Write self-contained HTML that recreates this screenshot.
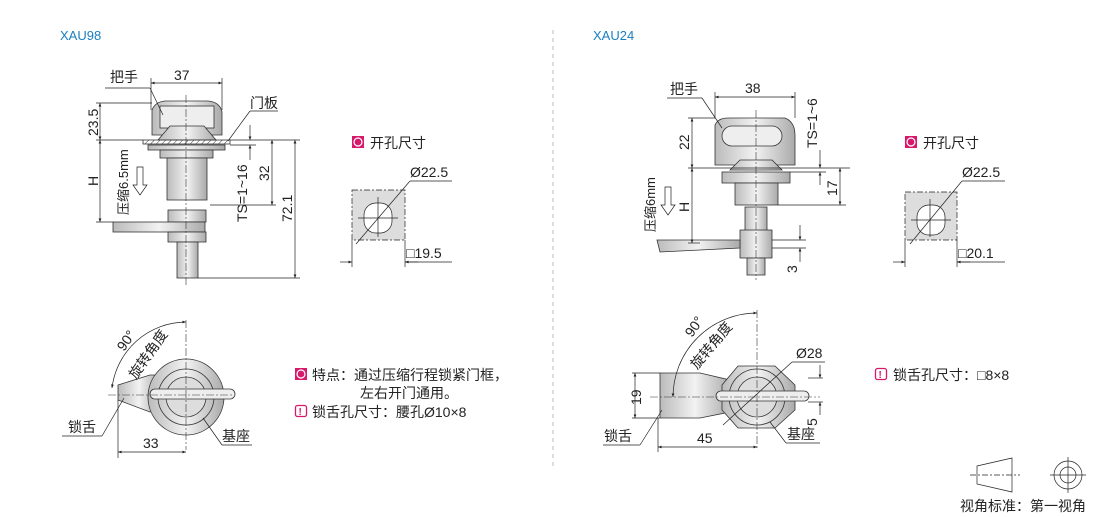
<!DOCTYPE html>
<html><head><meta charset="utf-8"><style>
body{margin:0;background:#fff;}
svg{display:block;font-family:"Liberation Sans","Noto Sans CJK SC",sans-serif;}
</style></head><body>
<svg width="1110" height="517" viewBox="0 0 1110 517" xmlns="http://www.w3.org/2000/svg">
<defs>
<marker id="a" viewBox="0 0 10 10" refX="10" refY="5" markerWidth="7" markerHeight="5" orient="auto-start-reverse"><path d="M0,1 L10,5 L0,9z" fill="#222"/></marker>
<pattern id="h" width="4" height="4" patternUnits="userSpaceOnUse" patternTransform="rotate(45)"><line x1="0" y1="0" x2="0" y2="4" stroke="#444" stroke-width="1"/></pattern>
<linearGradient id="g" x1="0" x2="1"><stop offset="0" stop-color="#bbb"/><stop offset=".5" stop-color="#f2f2f2"/><stop offset="1" stop-color="#aaa"/></linearGradient>
</defs>
<g font-size="13" fill="#1a7fc0"><text x="60" y="40">XAU98</text><text x="593" y="40">XAU24</text></g>
<line x1="553" y1="30" x2="553" y2="470" stroke="#bbb" stroke-dasharray="4,4"/>

<g stroke="#333" stroke-width="0.8" fill="url(#g)">
<path d="M152,135 L152,110 Q155,102 165,101 L208,101 Q220,102 222,112 L222,135 Z"/>
<rect x="160" y="106" width="54" height="22" fill="#eee"/>
<path d="M158,140 L170,126 L204,126 L216,140Z"/>
<rect x="143" y="140" width="87" height="4" fill="url(#h)"/>
<rect x="148" y="145" width="77" height="5"/>
<rect x="160" y="150" width="53" height="8"/>
<rect x="167" y="158" width="40" height="42"/>
<rect x="168" y="210" width="38" height="12"/>
<rect x="113" y="222" width="92" height="10"/>
<rect x="168" y="232" width="38" height="10"/>
<rect x="177" y="242" width="21" height="36"/>
<path d="M715,165 L715,125 Q718,118 728,118 L785,118 Q795,122 795,135 L795,165 Z"/>
<rect x="722" y="126" width="60" height="20" rx="10" fill="#eee"/>
<path d="M730,170 L740,160 L772,160 L782,170Z"/>
<rect x="722" y="172" width="68" height="11"/>
<rect x="735" y="183" width="43" height="22"/>
<rect x="745" y="207" width="22" height="25"/>
<rect x="740" y="230" width="32" height="28"/>
<path d="M657,240 L740,240 L740,248 L660,252Z"/>
<rect x="747" y="258" width="18" height="17"/>
<path d="M118,385 L150,375 L160,375 L160,412 L150,412 L118,400Z"/>
<circle cx="186" cy="397" r="38"/>
<circle cx="186" cy="397" r="28" fill="none"/>
<circle cx="186" cy="397" r="20" fill="#ddd"/>
<rect x="150" y="389" width="85" height="10" rx="5" fill="#eee"/>
<path d="M660,373 L700,373 L730,380 L730,412 L700,418 L660,418Z"/>
<polygon points="738,366 775,366 795,385 795,410 775,428 738,428 722,410 722,385"/>
<circle cx="757" cy="397" r="28" fill="none"/>
<circle cx="757" cy="397" r="20" fill="#ddd"/>
<rect x="716" y="391" width="93" height="10" rx="5" fill="#eee"/>
</g>
<g stroke="#333" stroke-width="0.6" fill="none" stroke-dasharray="8,2,2,2">
<line x1="186" y1="95" x2="186" y2="285"/><line x1="756" y1="110" x2="756" y2="280"/>
<line x1="186" y1="320" x2="186" y2="450"/><line x1="108" y1="395" x2="232" y2="395"/>
<line x1="757" y1="310" x2="757" y2="450"/><line x1="650" y1="397" x2="820" y2="397"/>
</g>

<g stroke="#222" stroke-width="0.7" fill="none">
<line x1="151" y1="83" x2="222" y2="83" marker-start="url(#a)" marker-end="url(#a)"/>
<line x1="151" y1="78" x2="151" y2="110"/><line x1="222" y1="78" x2="222" y2="110"/>
<line x1="100" y1="103" x2="100" y2="140" marker-start="url(#a)" marker-end="url(#a)"/>
<line x1="100" y1="140" x2="100" y2="222" marker-start="url(#a)" marker-end="url(#a)"/>
<line x1="96" y1="103" x2="152" y2="103"/><line x1="96" y1="140" x2="143" y2="140"/><line x1="96" y1="222" x2="113" y2="222"/>
<line x1="250" y1="125" x2="250" y2="140" marker-end="url(#a)"/><line x1="250" y1="160" x2="250" y2="145" marker-end="url(#a)"/>
<line x1="230" y1="140" x2="300" y2="140"/><line x1="230" y1="145" x2="256" y2="145"/>
<line x1="272" y1="140" x2="272" y2="205" marker-start="url(#a)" marker-end="url(#a)"/>
<line x1="210" y1="205" x2="276" y2="205"/>
<line x1="295" y1="140" x2="295" y2="278" marker-start="url(#a)" marker-end="url(#a)"/>
<line x1="198" y1="278" x2="300" y2="278"/>
<line x1="105" y1="88" x2="150" y2="88"/><line x1="150" y1="88" x2="163" y2="115"/>
<line x1="250" y1="111" x2="278" y2="111"/><line x1="250" y1="111" x2="228" y2="141"/>
<path d="M137,167 L137,185 L133,185 L140,195 L147,185 L143,185 L143,167Z"/>
<line x1="715" y1="97" x2="795" y2="97" marker-start="url(#a)" marker-end="url(#a)"/>
<line x1="715" y1="92" x2="715" y2="118"/><line x1="795" y1="92" x2="795" y2="118"/>
<line x1="692" y1="118" x2="692" y2="168" marker-start="url(#a)" marker-end="url(#a)"/>
<line x1="692" y1="168" x2="692" y2="243" marker-start="url(#a)" marker-end="url(#a)"/>
<line x1="688" y1="118" x2="715" y2="118"/><line x1="688" y1="168" x2="850" y2="168"/><line x1="688" y1="243" x2="700" y2="243"/>
<line x1="820" y1="150" x2="820" y2="168" marker-end="url(#a)"/><line x1="820" y1="185" x2="820" y2="172" marker-end="url(#a)"/>
<line x1="790" y1="172" x2="826" y2="172"/>
<line x1="840" y1="168" x2="840" y2="205" marker-start="url(#a)" marker-end="url(#a)"/>
<line x1="778" y1="205" x2="846" y2="205"/>
<line x1="800" y1="225" x2="800" y2="240" marker-end="url(#a)"/><line x1="800" y1="262" x2="800" y2="248" marker-end="url(#a)"/>
<line x1="772" y1="240" x2="806" y2="240"/><line x1="772" y1="248" x2="806" y2="248"/>
<line x1="667" y1="98" x2="702" y2="98"/><line x1="702" y1="98" x2="722" y2="128"/>
<path d="M665,187 L665,205 L661,205 L668,215 L675,205 L671,205 L671,187Z"/>
<rect x="352" y="190" width="53" height="50" fill="#ddd" stroke-dasharray="6,2,2,2"/>
<rect x="364" y="203" width="28" height="30" rx="12" fill="#fff"/>
<line x1="378" y1="197" x2="378" y2="237"/><line x1="358" y1="218" x2="398" y2="218"/>
<line x1="356" y1="244" x2="410" y2="181"/><line x1="410" y1="181" x2="452" y2="181"/>
<line x1="352" y1="240" x2="352" y2="267"/><line x1="405" y1="240" x2="405" y2="267"/>
<line x1="340" y1="262" x2="352" y2="262" marker-end="url(#a)"/><line x1="418" y1="262" x2="405" y2="262" marker-end="url(#a)"/><line x1="405" y1="262" x2="452" y2="262"/>
<rect x="905" y="192" width="52" height="48" fill="#ddd" stroke-dasharray="6,2,2,2"/>
<rect x="917" y="205" width="28" height="30" rx="12" fill="#fff"/>
<line x1="930" y1="199" x2="930" y2="237"/><line x1="911" y1="220" x2="951" y2="220"/>
<line x1="910" y1="244" x2="962" y2="181"/><line x1="962" y1="181" x2="1005" y2="181"/>
<line x1="905" y1="240" x2="905" y2="267"/><line x1="957" y1="240" x2="957" y2="267"/>
<line x1="893" y1="262" x2="905" y2="262" marker-end="url(#a)"/><line x1="970" y1="262" x2="957" y2="262" marker-end="url(#a)"/><line x1="957" y1="262" x2="1005" y2="262"/>
<path d="M112,388 A75,75 0 0 1 186,322" marker-start="url(#a)" marker-end="url(#a)"/>
<line x1="118" y1="400" x2="118" y2="458"/>
<line x1="118" y1="452" x2="186" y2="452" marker-start="url(#a)" marker-end="url(#a)"/>
<line x1="62" y1="436" x2="102" y2="436"/><line x1="102" y1="436" x2="124" y2="398"/>
<line x1="222" y1="445" x2="252" y2="445"/><line x1="222" y1="445" x2="203" y2="418"/>
<path d="M673,397 A84,84 0 0 1 757,313" marker-start="url(#a)" marker-end="url(#a)"/>
<line x1="632" y1="373" x2="660" y2="373"/><line x1="632" y1="418" x2="660" y2="418"/>
<line x1="635" y1="373" x2="635" y2="418" marker-start="url(#a)" marker-end="url(#a)"/>
<line x1="658" y1="418" x2="658" y2="452"/>
<line x1="658" y1="447" x2="757" y2="447" marker-start="url(#a)" marker-end="url(#a)"/>
<line x1="723" y1="425" x2="792" y2="362"/><line x1="792" y1="362" x2="825" y2="362"/>
<line x1="808" y1="378" x2="823" y2="378"/><line x1="808" y1="402" x2="823" y2="402"/>
<line x1="820" y1="365" x2="820" y2="378" marker-end="url(#a)"/><line x1="820" y1="415" x2="820" y2="402" marker-end="url(#a)"/>
<line x1="603" y1="445" x2="640" y2="445"/><line x1="640" y1="445" x2="662" y2="410"/>
<line x1="786" y1="443" x2="820" y2="443"/><line x1="786" y1="443" x2="770" y2="422"/>
<path d="M977,466 L1012,458 L1012,492 L977,484Z"/>
<line x1="970" y1="475" x2="1020" y2="475" stroke-dasharray="6,2,2,2"/>
<circle cx="1068" cy="475" r="14"/><circle cx="1068" cy="475" r="8"/>
<line x1="1050" y1="475" x2="1086" y2="475"/><line x1="1068" y1="457" x2="1068" y2="493"/>
</g>

<g font-size="14" fill="#222">
<text x="110" y="82">把手</text><text x="174" y="80">37</text><text x="250" y="108">门板</text>
<text transform="translate(98,136) rotate(-90)">23.5</text>
<text transform="translate(98,186) rotate(-90)">H</text>
<text transform="translate(128,215) rotate(-90)" font-size="13">压缩6.5mm</text>
<text transform="translate(247,222) rotate(-90)">TS=1~16</text>
<text transform="translate(269,181) rotate(-90)">32</text>
<text transform="translate(292,222) rotate(-90)">72.1</text>
<text x="410" y="177">Ø22.5</text><text x="406" y="258">□19.5</text>
<rect x="352" y="136" width="12" height="12" fill="#d6196b"/><circle cx="358" cy="142" r="4" fill="none" stroke="#fff" stroke-width="1.2"/>
<text x="370" y="148">开孔尺寸</text>
<text transform="translate(124,352) rotate(-55)">90°</text>
<text transform="translate(136,380) rotate(-55)">旋转角度</text>
<text x="68" y="432">锁舌</text><text x="143" y="448">33</text><text x="222" y="441">基座</text>
<rect x="295" y="368" width="12" height="12" fill="#d6196b"/><circle cx="301" cy="374" r="4" fill="none" stroke="#fff" stroke-width="1.2"/>
<text x="312" y="380">特点：通过压缩行程锁紧门框，</text>
<text x="360" y="398">左右开门通用。</text>
<rect x="295.5" y="405.5" width="11" height="11" rx="2" fill="none" stroke="#d6196b" stroke-width="1.3"/><text x="298.5" y="415" font-size="10" fill="#d6196b" font-weight="bold">!</text>
<text x="312" y="417">锁舌孔尺寸：腰孔Ø10×8</text>

<text x="670" y="94">把手</text><text x="745" y="93">38</text>
<text transform="translate(689,150) rotate(-90)">22</text>
<text transform="translate(689,212) rotate(-90)">H</text>
<text transform="translate(817,148) rotate(-90)">TS=1~6</text>
<text transform="translate(837,196) rotate(-90)">17</text>
<text transform="translate(797,273) rotate(-90)">3</text>
<text transform="translate(655,232) rotate(-90)" font-size="13">压缩6mm</text>
<text x="962" y="177">Ø22.5</text><text x="958" y="258">□20.1</text>
<rect x="905" y="136" width="12" height="12" fill="#d6196b"/><circle cx="911" cy="142" r="4" fill="none" stroke="#fff" stroke-width="1.2"/>
<text x="923" y="148">开孔尺寸</text>
<text transform="translate(692,338) rotate(-55)">90°</text>
<text transform="translate(697,370) rotate(-50)">旋转角度</text>
<text x="796" y="358">Ø28</text>
<text transform="translate(641,405) rotate(-90)">19</text>
<text transform="translate(817,426) rotate(-90)">5</text>
<text x="604" y="441">锁舌</text><text x="697" y="443">45</text><text x="787" y="439">基座</text>
<rect x="875.5" y="368.5" width="11" height="11" rx="2" fill="none" stroke="#d6196b" stroke-width="1.3"/><text x="878.5" y="378" font-size="10" fill="#d6196b" font-weight="bold">!</text>
<text x="893" y="380">锁舌孔尺寸：□8×8</text>
<text x="960" y="511">视角标准：第一视角</text>
</g>
</svg>
</body></html>
